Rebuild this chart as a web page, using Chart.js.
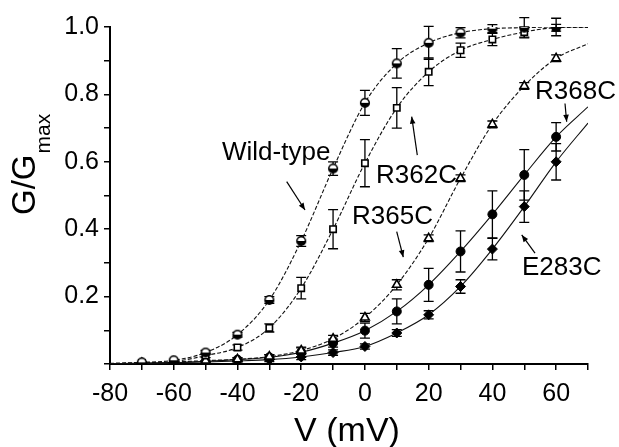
<!DOCTYPE html>
<html><head><meta charset="utf-8">
<script src="https://cdn.jsdelivr.net/npm/chart.js@4/dist/chart.umd.min.js"></script>
<style>html,body{margin:0;padding:0;background:#fff;}#c{display:block;}</style>
</head><body>
<canvas id="c" width="619" height="447"></canvas>
<script>
// ---- data ----
const voltages = [-70,-60,-50,-40,-30,-20,-10,0,10,20,30,40,50,60];
const wildType = [0.005,0.011,0.034,0.087,0.19,0.365,0.58,0.775,0.892,0.953,0.983,0.995,0.998,1.0];
const wildTypeErr = [0.004,0.004,0.006,0.007,0.01,0.016,0.02,0.037,0.044,0.049,0.015,0.012,0.03,0.026];
const r362c = [0.003,0.007,0.025,0.049,0.107,0.225,0.40,0.596,0.76,0.867,0.931,0.963,0.985,0.998];
const r362cErr = [0.003,0.004,0.006,0.008,0.012,0.032,0.058,0.07,0.06,0.041,0.021,0.018,0.015,0.01];
const r365c = [0.003,0.006,0.01,0.014,0.022,0.04,0.075,0.138,0.235,0.373,0.551,0.711,0.825,0.907];
const r365cErr = [0.003,0.003,0.004,0.005,0.006,0.008,0.01,0.012,0.015,0.01,0.01,0.01,0.01,0.01];
const r368c = [0.002,0.004,0.008,0.013,0.02,0.035,0.062,0.099,0.156,0.235,0.334,0.444,0.561,0.674];
const r368cErr = [0.003,0.003,0.004,0.005,0.008,0.015,0.012,0.022,0.037,0.049,0.061,0.07,0.075,0.042];
const e283c = [0.002,0.004,0.006,0.009,0.013,0.021,0.034,0.052,0.092,0.146,0.23,0.341,0.467,0.60];
const e283cErr = [0.002,0.003,0.003,0.004,0.006,0.008,0.008,0.008,0.01,0.012,0.02,0.032,0.047,0.054];
// fitted-curve end values read at V = -80 and V = 70
const curveStartV = -80, curveEndV = 70;
const curveStart = {wt:0.002, r362:0.001, r365:0.001, r368:0.001, e283:0.001};
const curveEnd = {wt:1.0, r362:0.999, r365:0.95, r368:0.763, e283:0.715};
const xTicks = [-80,-60,-40,-20,0,20,40,60];
const yTicks = [0.2,0.4,0.6,0.8,1.0];
// annotation labels (data coordinates) and arrows
const labels = [
  {text:'Wild-type', v:-44.85, g:0.605, arrow:[-24.55,0.541,-18.8,0.457]},
  {text:'R362C', v:3.47, g:0.537, arrow:[16.43,0.620,14.67,0.734]},
  {text:'R365C', v:-4.06, g:0.416, arrow:[9.97,0.393,12.04,0.317]},
  {text:'R368C', v:53.37, g:0.785, arrow:[62.78,0.773,63.31,0.719]},
  {text:'E283C', v:49.29, g:0.265, arrow:[53.37,0.329,49.2,0.383]}
];

const FONT = "'Liberation Sans', Arial, sans-serif";

function pts(vals){ return voltages.map((v,i)=>({x:v,y:vals[i]})); }
function curve(vals,key){ return [{x:curveStartV,y:curveStart[key]}].concat(pts(vals)).concat([{x:curveEndV,y:curveEnd[key]}]); }

// half-filled circle symbol for wild-type
const halfCircle = document.createElement('canvas');
halfCircle.width = 12; halfCircle.height = 12;
(function(){
  const c = halfCircle.getContext('2d');
  c.fillStyle='#fff'; c.beginPath(); c.arc(6,6,4.3,0,2*Math.PI); c.fill();
  c.fillStyle='#000'; c.beginPath(); c.arc(6,6,4.3,0,Math.PI); c.fill();
  c.strokeStyle='#000'; c.lineWidth=1.6; c.beginPath(); c.arc(6,6,4.3,0,2*Math.PI); c.stroke();
})();

function curveDs(vals,key,dash){
  return {data:curve(vals,key), showLine:true, pointRadius:0, borderColor:'#111', borderWidth:1.1,
    borderDash:dash, cubicInterpolationMode:'monotone', order:2, fill:false};
}
function markDs(vals,err,style,radius,bg,bw){
  return {data:pts(vals), err:err, showLine:false, pointStyle:style, pointRadius:radius,
    backgroundColor:bg, borderColor:'#000', borderWidth:bw, order:1};
}

const decor = {
  id:'decor',
  beforeDatasetsDraw(chart){
    const ctx = chart.ctx, xs = chart.scales.x, ys = chart.scales.y;
    ctx.save(); ctx.strokeStyle='#000'; ctx.lineWidth=1.3;
    chart.data.datasets.forEach(ds=>{
      if(!ds.err) return;
      ds.data.forEach((p,i)=>{
        const e = ds.err[i]; const x = xs.getPixelForValue(p.x);
        const y1 = ys.getPixelForValue(p.y+e), y2 = ys.getPixelForValue(p.y-e);
        if (y2-y1 < 3) return;
        ctx.beginPath(); ctx.moveTo(x,y1); ctx.lineTo(x,y2);
        ctx.moveTo(x-5,y1); ctx.lineTo(x+5,y1); ctx.moveTo(x-5,y2); ctx.lineTo(x+5,y2); ctx.stroke();
      });
    });
    ctx.restore();
  },
  afterDraw(chart){
    const ctx = chart.ctx, xs = chart.scales.x, ys = chart.scales.y;
    ctx.save();
    ctx.fillStyle='#000'; ctx.strokeStyle='#000';
    // annotations
    ctx.font = "26px " + FONT; ctx.textAlign='left'; ctx.textBaseline='alphabetic';
    labels.forEach(l=>{
      ctx.fillText(l.text, xs.getPixelForValue(l.v), ys.getPixelForValue(l.g));
      const [v1,g1,v2,g2] = l.arrow;
      const x1=xs.getPixelForValue(v1), y1=ys.getPixelForValue(g1), x2=xs.getPixelForValue(v2), y2=ys.getPixelForValue(g2);
      ctx.lineWidth=1.2; ctx.beginPath(); ctx.moveTo(x1,y1); ctx.lineTo(x2,y2); ctx.stroke();
      const a = Math.atan2(y2-y1,x2-x1), L=7, W=2.8;
      ctx.beginPath(); ctx.moveTo(x2,y2);
      ctx.lineTo(x2-L*Math.cos(a)+W*Math.sin(a), y2-L*Math.sin(a)-W*Math.cos(a));
      ctx.lineTo(x2-L*Math.cos(a)-W*Math.sin(a), y2-L*Math.sin(a)+W*Math.cos(a));
      ctx.closePath(); ctx.fill();
    });
    // x title
    ctx.font = "34px " + FONT; ctx.textAlign='center';
    ctx.fillText('V (mV)', (chart.chartArea.left+chart.chartArea.right)/2 - 2, 441);
    // y title with subscript
    ctx.translate(35, 215); ctx.rotate(-Math.PI/2);
    ctx.textAlign='left'; ctx.font = "33px " + FONT;
    ctx.fillText('G/G', 0, 0);
    const w = ctx.measureText('G/G').width;
    ctx.font = "21px " + FONT;
    ctx.fillText('max', w+1, 15);
    ctx.restore();
  }
};

new Chart(document.getElementById('c'), {
  type:'scatter',
  data:{datasets:[
    curveDs(wildType,'wt',[4,2]),
    curveDs(r362c,'r362',[4,2]),
    curveDs(r365c,'r365',[4,2]),
    curveDs(r368c,'r368',[]),
    curveDs(e283c,'e283',[]),
    markDs(wildType,wildTypeErr,halfCircle,4.3,'#000',1.5),
    markDs(r362c,r362cErr,'rect',4.5,'#fff',1.6),
    markDs(r365c,r365cErr,'triangle',5,'#fff',1.6),
    markDs(r368c,r368cErr,'circle',4.5,'#000',1),
    markDs(e283c,e283cErr,'rectRot',5,'#000',1)
  ]},
  options:{
    responsive:false, animation:false, devicePixelRatio:1,
    layout:{padding:{top:27,right:31,left:0,bottom:0}},
    plugins:{legend:{display:false}, tooltip:{enabled:false}},
    scales:{
      x:{type:'linear', min:-80, max:70,
        afterFit(s){ s.height = 83; },
        ticks:{stepSize:10, autoSkip:false, maxRotation:0, padding:9, color:'#000',
          font:{family:FONT, size:25},
          callback:(v)=> xTicks.includes(v) ? String(v) : ''},
        grid:{drawOnChartArea:false, drawTicks:true, tickLength:6, color:'#000', lineWidth:1.5},
        border:{display:true, color:'#000', width:2}
      },
      y:{type:'linear', min:0, max:1,
        afterFit(s){ s.width = 110; },
        ticks:{stepSize:0.1, autoSkip:false, padding:5, color:'#000',
          font:{family:FONT, size:25},
          callback:(v)=>{ const r=Math.round(v*10)/10; return yTicks.includes(r) ? r.toFixed(1) : ''; }},
        grid:{drawOnChartArea:false, drawTicks:true, tickLength:6, color:'#000', lineWidth:1.5},
        border:{display:true, color:'#000', width:2}
      }
    }
  },
  plugins:[decor]
});
</script>
</body></html>
